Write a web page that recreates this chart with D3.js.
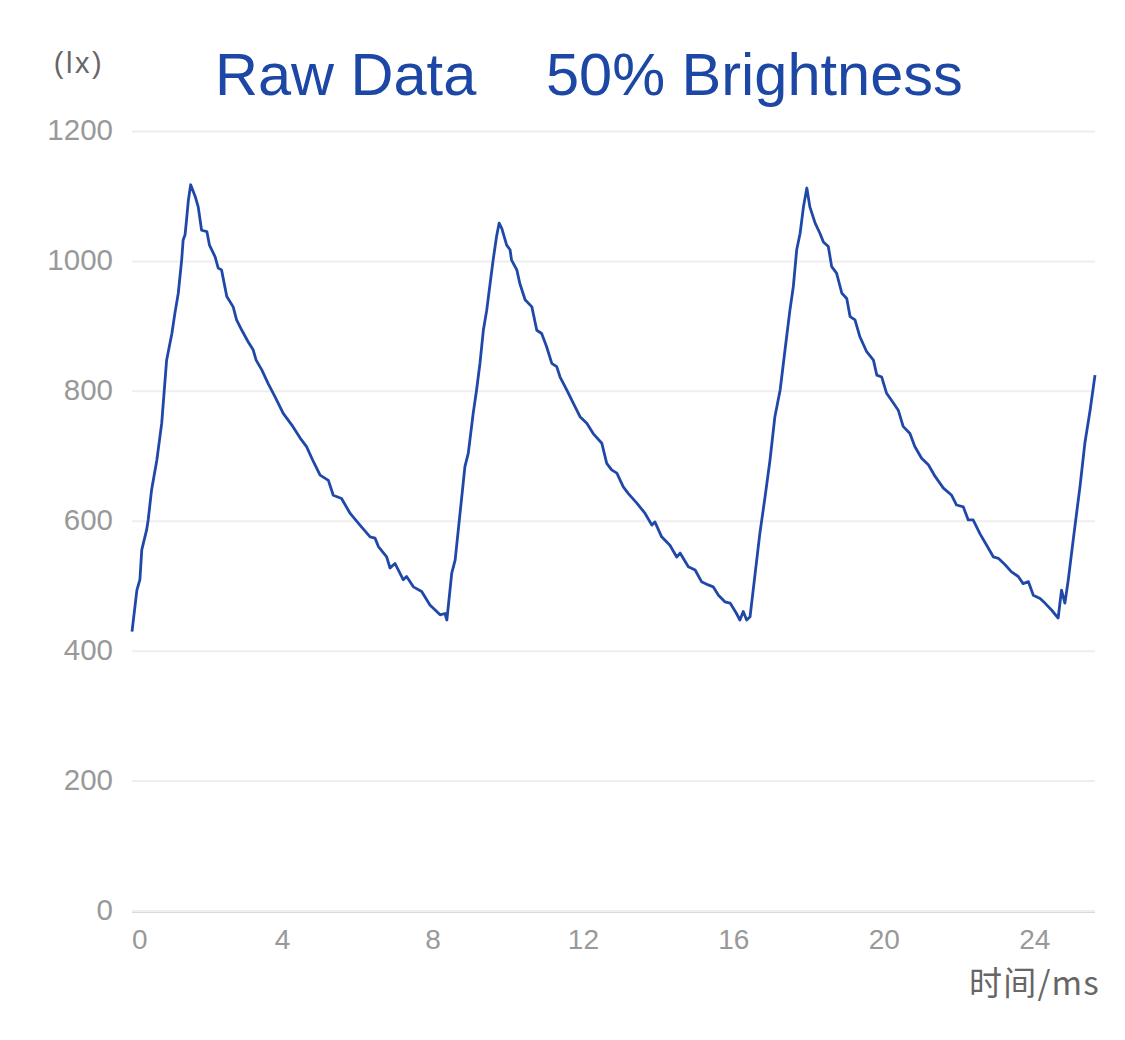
<!DOCTYPE html>
<html>
<head>
<meta charset="utf-8">
<script src="https://cdn.jsdelivr.net/npm/d3@7"></script>
<style>
  html, body { margin: 0; padding: 0; background: #fff; }
  svg { display: block; }
</style>
</head>
<body>
<svg id="chart" width="1125" height="1040"></svg>
<script>
// ---- Data ----
const titleParts = ["Raw Data", "50% Brightness"];
const yAxisName = "(lx)";
const xAxisName = "时间/ms";
const xTicks = [0, 4, 8, 12, 16, 20, 24];
const yTicks = [0, 200, 400, 600, 800, 1000, 1200];

// time in ms
const timeMs = [
  0.00, 0.13, 0.21, 0.26, 0.39, 0.43, 0.52, 0.66, 0.79, 0.92, 1.06, 1.14, 1.23, 1.32, 1.36, 1.41, 1.45, 1.50, 1.56,
  1.68, 1.76, 1.85, 1.99, 2.06, 2.21, 2.29, 2.38, 2.52, 2.69, 2.78, 2.92, 3.09, 3.22, 3.30,
  3.45, 3.62, 3.80, 4.02, 4.25, 4.47, 4.64, 4.82, 5.00, 5.22, 5.35, 5.57, 5.80, 6.06, 6.33, 6.46, 6.55,
  6.77, 6.86, 6.99, 7.21, 7.30, 7.48, 7.70, 7.92, 8.19, 8.32, 8.37,
  8.50, 8.59, 8.72, 8.85, 8.94, 9.07, 9.16, 9.25, 9.34, 9.43, 9.52, 9.60, 9.69, 9.76,
  9.83, 9.96, 10.05, 10.09, 10.23, 10.31, 10.45, 10.63, 10.76, 10.89, 11.02, 11.16, 11.29, 11.38,
  11.56, 11.73, 11.91, 12.09, 12.26, 12.49, 12.62, 12.75, 12.89, 13.06, 13.19, 13.42, 13.64, 13.82,
  13.90, 14.08, 14.30, 14.48, 14.57, 14.79, 14.97, 15.14, 15.32, 15.45, 15.59, 15.76, 15.90, 16.07,
  16.16, 16.25, 16.34, 16.43,
  16.56, 16.69, 16.83, 16.96, 17.09, 17.23, 17.36, 17.49, 17.58, 17.67, 17.76, 17.85, 17.94,
  18.02, 18.16, 18.29, 18.38, 18.51, 18.60, 18.73, 18.87, 19.00, 19.09, 19.22, 19.35, 19.53, 19.71,
  19.80, 19.93, 20.06, 20.24, 20.37, 20.50, 20.68, 20.81, 20.99, 21.17, 21.35, 21.57, 21.79, 21.92,
  22.10, 22.23, 22.36, 22.54, 22.72, 22.90, 23.03, 23.21, 23.38, 23.56, 23.69, 23.83, 23.96, 24.14,
  24.27, 24.45, 24.62, 24.71, 24.80, 24.89, 25.02, 25.20, 25.33, 25.47, 25.60
];

// illuminance in lx
const luxValues = [
  430, 494, 510, 556, 587, 602, 648, 694, 751, 848, 889, 920, 951, 1002, 1033, 1041, 1064, 1095, 1118,
  1100, 1084, 1048, 1046, 1025, 1007, 990, 987, 946, 930, 910, 894, 876, 864, 848,
  833, 812, 792, 766, 748, 728, 715, 692, 671, 663, 640, 635, 612, 594, 576, 574, 561,
  545, 528, 535, 510, 515, 499, 492, 471, 456, 458, 448,
  520, 540, 612, 684, 705, 766, 802, 843, 894, 925, 966, 1002, 1038, 1059,
  1051, 1025, 1018, 1002, 987, 966, 941, 930, 894, 889, 869, 843, 838, 822,
  802, 782, 761, 751, 735, 720, 689, 679, 674, 653, 643, 628, 612, 594,
  599, 576, 563, 545, 551, 530, 525, 507, 502, 499, 486, 476, 474, 458,
  448, 461, 448, 453,
  517, 581, 638, 694, 761, 802, 864, 925, 961, 1018, 1043, 1084, 1113,
  1084, 1059, 1043, 1030, 1023, 992, 982, 951, 943, 915, 910, 884, 861, 848,
  825, 822, 797, 782, 771, 746, 735, 715, 697, 687, 669, 651, 640, 625,
  622, 602, 602, 581, 563, 545, 543, 533, 522, 515, 504, 507, 486, 481,
  474, 463, 451, 494, 474, 510, 571, 653, 720, 771, 825
];

const data = timeMs.map((t, i) => ({ t, v: luxValues[i] }));

// ---- Layout ----
const svg = d3.select("#chart");
const x = d3.scaleLinear().domain([0, 25.6]).range([132, 1095]);
const y = d3.scaleLinear().domain([0, 1200]).range([911, 131.5]);

const FONT = "'Liberation Sans', Arial, Helvetica, sans-serif";

// gridlines
svg.append("g")
  .selectAll("line")
  .data(yTicks)
  .join("line")
  .attr("x1", x.range()[0])
  .attr("x2", x.range()[1])
  .attr("y1", d => y(d))
  .attr("y2", d => y(d))
  .attr("stroke", "#eeeeee")
  .attr("stroke-width", 2);

// x axis line
svg.append("line")
  .attr("x1", x.range()[0]).attr("x2", x.range()[1])
  .attr("y1", y(0) + 1.5).attr("y2", y(0) + 1.5)
  .attr("stroke", "#d9d9d9").attr("stroke-width", 1);

// y tick labels
svg.append("g")
  .selectAll("text")
  .data(yTicks)
  .join("text")
  .attr("x", 113)
  .attr("y", d => y(d) + 8.5)
  .attr("text-anchor", "end")
  .attr("font-family", FONT)
  .attr("font-size", 29.5)
  .attr("fill", "#999999")
  .text(d => d);

// x tick labels
svg.append("g")
  .selectAll("text")
  .data(xTicks)
  .join("text")
  .attr("x", d => x(d))
  .attr("y", 949)
  .attr("text-anchor", (d, i) => i === 0 ? "start" : "middle")
  .attr("font-family", FONT)
  .attr("font-size", 28)
  .attr("fill", "#999999")
  .text(d => d);

// axis names
svg.append("text")
  .attr("x", 79)
  .attr("y", 73)
  .attr("text-anchor", "middle")
  .attr("font-family", FONT)
  .attr("font-size", 29)
  .attr("letter-spacing", 2.5)
  .attr("fill", "#666666")
  .text(yAxisName);

svg.append("text")
  .attr("x", 1100)
  .attr("y", 995)
  .attr("text-anchor", "end")
  .attr("font-family", "'Noto Sans CJK SC', 'Noto Sans', sans-serif")
  .attr("font-size", 33)
  .attr("letter-spacing", 1.2)
  .attr("fill", "#666666")
  .text(xAxisName);

// title
const title = svg.append("text")
  .attr("y", 95)
  .attr("font-family", FONT)
  .attr("font-size", 59.5)
  .attr("fill", "#1c47a5");
title.append("tspan").attr("x", 215).text(titleParts[0]);
title.append("tspan").attr("x", 546).text(titleParts[1]);

// line
const line = d3.line()
  .x(d => x(d.t))
  .y(d => y(d.v));

svg.append("path")
  .datum(data)
  .attr("d", line)
  .attr("fill", "none")
  .attr("stroke", "#1f48a8")
  .attr("stroke-width", 2.8)
  .attr("stroke-linejoin", "round");
</script>
</body>
</html>
